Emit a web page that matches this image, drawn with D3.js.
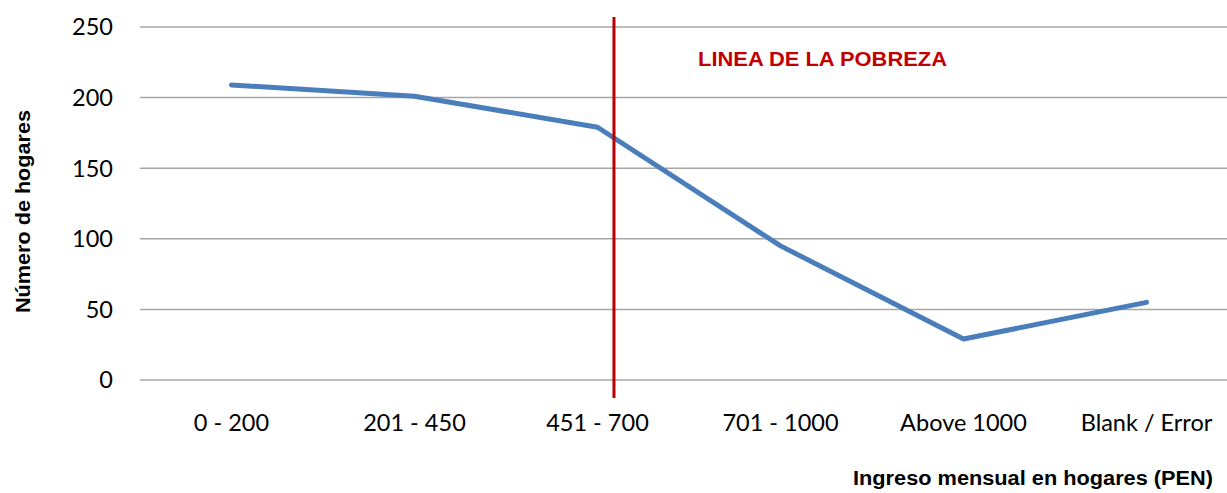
<!DOCTYPE html>
<html>
<head>
<meta charset="utf-8">
<script src="https://cdn.jsdelivr.net/npm/d3@7"></script>
<style>
  body { margin: 0; background: #fff; }
  svg { display: block; }
</style>
</head>
<body>
<div id="chart"></div>
<script>
// categories and values
var categories = ["0 - 200", "201 - 450", "451 - 700", "701 - 1000", "Above 1000", "Blank / Error"];
var hogares = [209, 201, 179, 95, 29, 55];
var yTicks = [0, 50, 100, 150, 200, 250];
var povertyPos = 2.09; // category index where the poverty line sits
var povertyLabel = "LINEA DE LA POBREZA";

var width = 1227, height = 493;
var plotLeft = 140, plotRight = 1238, plotTop = 27, plotBottom = 380;

var svg = d3.select("#chart").append("svg")
	.attr("width", width)
	.attr("height", height);

var x = d3.scaleLinear()
	.domain([-0.5, categories.length - 0.5])
	.range([plotLeft, plotRight]);

var y = d3.scaleLinear()
	.domain([0, 250])
	.range([plotBottom, plotTop]);

var tickFont = "Lato, 'Open Sans', sans-serif";
var titleFont = "'Liberation Sans Narrow', 'Arial Narrow', 'Liberation Sans', Arial, sans-serif";

// gridlines
svg.append("g")
	.selectAll("line")
	.data(yTicks)
	.enter()
	.append("line")
	.attr("x1", plotLeft)
	.attr("x2", width)
	.attr("y1", function (d) { return y(d); })
	.attr("y2", function (d) { return y(d); })
	.style("stroke", "#a6a6a6")
	.style("stroke-width", 1.5);

// y tick labels
svg.append("g")
	.selectAll("text")
	.data(yTicks)
	.enter()
	.append("text")
	.attr("x", 113)
	.attr("y", function (d) { return y(d); })
	.attr("dy", "0.36em")
	.attr("text-anchor", "end")
	.style("font-family", tickFont)
	.style("font-size", "23.5px")
	.style("fill", "#000")
	.text(function (d) { return d; });

// x tick labels
svg.append("g")
	.selectAll("text")
	.data(categories)
	.enter()
	.append("text")
	.attr("x", function (d, i) { return x(i); })
	.attr("y", 431)
	.attr("text-anchor", "middle")
	.style("font-family", tickFont)
	.style("font-size", "23.5px")
	.style("fill", "#000")
	.text(function (d) { return d; });

// the series line
var line = d3.line()
	.x(function (d, i) { return x(i); })
	.y(function (d) { return y(d); });

svg.append("path")
	.datum(hogares)
	.attr("d", line)
	.style("fill", "none")
	.style("stroke", "#4a7ebb")
	.style("stroke-width", 5)
	.style("stroke-linecap", "round")
	.style("stroke-linejoin", "round");

// poverty line
svg.append("line")
	.attr("x1", x(povertyPos))
	.attr("x2", x(povertyPos))
	.attr("y1", 17)
	.attr("y2", 398)
	.style("stroke", "#c00000")
	.style("stroke-width", 3);

svg.append("text")
	.attr("x", 698)
	.attr("y", 66)
	.attr("textLength", 249)
	.attr("lengthAdjust", "spacingAndGlyphs")
	.style("font-family", titleFont)
	.style("font-weight", "bold")
	.style("font-size", "20px")
	.style("fill", "#c00000")
	.text(povertyLabel);

// axis titles
svg.append("text")
	.attr("transform", "translate(30,313) rotate(-90)")
	.attr("textLength", 203)
	.attr("lengthAdjust", "spacingAndGlyphs")
	.style("font-family", titleFont)
	.style("font-weight", "bold")
	.style("font-size", "20px")
	.style("fill", "#000")
	.text("Número de hogares");

svg.append("text")
	.attr("x", 853)
	.attr("y", 485)
	.attr("textLength", 360)
	.attr("lengthAdjust", "spacingAndGlyphs")
	.style("font-family", titleFont)
	.style("font-weight", "bold")
	.style("font-size", "20px")
	.style("fill", "#000")
	.text("Ingreso mensual en hogares (PEN)");
</script>
</body>
</html>
